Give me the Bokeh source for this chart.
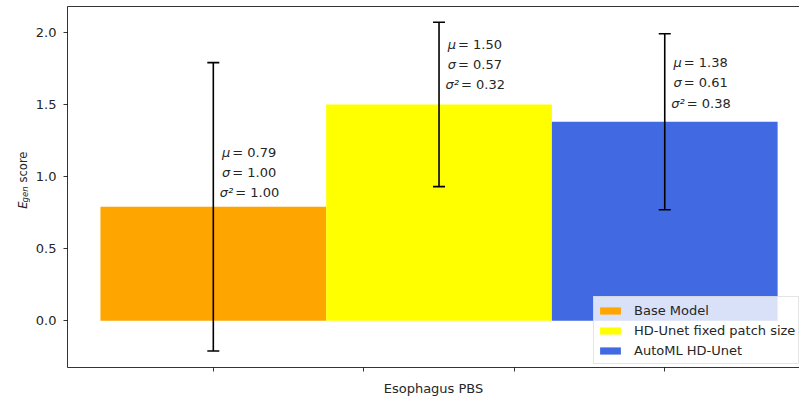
import numpy as np
from bokeh.plotting import figure
from bokeh.layouts import row
from bokeh.models import (ColumnDataSource, Range1d, FixedTicker, LinearAxis,
                          Whisker, TeeHead)
from bokeh.core.properties import value
from bokeh.embed import file_html
from bokeh.resources import INLINE

# ---------------- data ----------------
models = ["Base Model", "HD-Unet fixed patch size", "AutoML HD-Unet"]
means = [0.79, 1.50, 1.38]
stds = [1.00, 0.57, 0.61]
variances = [1.00, 0.32, 0.38]
colors = ["#FFA500", "#FFFF00", "#4169E1"]
bar_x = [0, 1, 2]
xticks = [0.0, 0.6667, 1.3333, 2.0]
yticks = [0.0, 0.5, 1.0, 1.5, 2.0]
ytick_labels = ["0.0", "0.5", "1.0", "1.5", "2.0"]
x_label = "Esophagus PBS"
y_label_parts = ["E", "gen", "score"]

# layout / style constants
FONT = "DejaVu Sans"
TXT = "#262626"
H = 398
LBL_W = 30
W = 799
note_gap_px = [14, 19.5, 18.5]   # pixel gap between bar top and last text line

# ---------------- main plot ----------------
p = figure(width=W - LBL_W, height=H, output_backend="svg", toolbar_location=None,
           x_range=Range1d(-0.646, 2.597), y_range=Range1d(-0.324, 2.179),
           min_border_left=67 - LBL_W, min_border_right=0, min_border_top=6,
           min_border_bottom=H - 369)
p.outline_line_color = None
p.xgrid.grid_line_color = None
p.ygrid.grid_line_color = None
p.background_fill_color = "white"
p.border_fill_color = "white"

# x axis
xa = p.xaxis[0]
xa.ticker = FixedTicker(ticks=xticks)
xa.major_label_text_color = None
xa.major_label_text_font_size = "1px"
xa.major_label_standoff = 0
xa.major_tick_out = 4
xa.major_tick_in = 0
xa.minor_tick_out = 0
xa.minor_tick_in = 0
xa.axis_line_width = 0.8
xa.major_tick_line_width = 0.8
xa.axis_label = x_label
xa.axis_label_text_font = FONT
xa.axis_label_text_font_size = "13px"
xa.axis_label_text_font_style = "normal"
xa.axis_label_text_color = TXT
xa.axis_label_standoff = 9

# y axis
ya = p.yaxis[0]
ya.ticker = FixedTicker(ticks=yticks)
ya.major_label_overrides = {t: l for t, l in zip(yticks, ytick_labels)}
ya.major_label_text_font = FONT
ya.major_label_text_font_size = "13px"
ya.major_label_text_color = TXT
ya.major_tick_out = 4
ya.major_tick_in = 0
ya.minor_tick_out = 0
ya.minor_tick_in = 0
ya.major_label_standoff = 7
ya.axis_line_width = 0.8
ya.major_tick_line_width = 0.8

# top spine
top_axis = LinearAxis(ticker=FixedTicker(ticks=[]), major_tick_out=0, major_tick_in=0,
                      minor_tick_out=0, minor_tick_in=0,
                      major_label_text_color=None, major_label_text_font_size="1px",
                      major_label_standoff=0, axis_line_width=0.8)
p.add_layout(top_axis, "above")

# bars
src = ColumnDataSource(dict(
    x=bar_x, top=means, model=models, color=colors,
    upper=[m + s for m, s in zip(means, stds)],
    lower=[m - s for m, s in zip(means, stds)],
))
p.vbar(x="x", top="top", width=1.0, fill_color="color", line_color=None,
       source=src, legend_field="model")

# error bars
wh = Whisker(source=src, base="x", upper="upper", lower="lower", dimension="height",
             line_color="black", line_width=1.6, level="annotation",
             upper_head=TeeHead(size=12, line_color="black", line_width=1.6),
             lower_head=TeeHead(size=12, line_color="black", line_width=1.6))
p.add_layout(wh)

# stats annotations
rows = dict(x=[], y=[], sym=[], rest=[], xo=[], xo2=[], yo=[])
for i in range(len(models)):
    items = [("μ", means[i]), ("σ", stds[i]), ("σ²", variances[i])]
    for k, (sym, val) in enumerate(items):
        xo = 20 if k == 2 else 17
        rows["x"].append(bar_x[i])
        rows["y"].append(means[i])
        rows["sym"].append(sym)
        rows["rest"].append("= %.2f" % val)
        rows["xo"].append(xo)
        rows["xo2"].append(xo + 2)
        rows["yo"].append(-(note_gap_px[i] + (2 - k) * 20.3))
tsrc = ColumnDataSource(rows)
p.text(x="x", y="y", text="sym", x_offset="xo", y_offset="yo", source=tsrc,
       text_align="right", text_baseline="alphabetic", text_font=value(FONT),
       text_font_size="13px", text_font_style="italic", text_color=TXT)
p.text(x="x", y="y", text="rest", x_offset="xo2", y_offset="yo", source=tsrc,
       text_align="left", text_baseline="alphabetic", text_font=value(FONT),
       text_font_size="13px", text_color=TXT)

# legend
lg = p.legend[0]
lg.location = (526, 3)
lg.label_text_font = FONT
lg.label_text_font_size = "13px"
lg.label_text_color = TXT
lg.glyph_width = 26
lg.glyph_height = 9
lg.label_height = 20
lg.label_standoff = 11
lg.spacing = 0
lg.padding = 3
lg.margin = 0
lg.border_line_color = "#cccccc"
lg.border_line_width = 1
lg.background_fill_color = "white"
lg.background_fill_alpha = 0.8

# ---------------- y-axis label strip (E_gen score) ----------------
q = figure(width=LBL_W, height=H, output_backend="svg", toolbar_location=None,
           x_range=Range1d(0, LBL_W), y_range=Range1d(0, H),
           x_axis_type=None, y_axis_type=None,
           min_border_left=0, min_border_right=0, min_border_top=0, min_border_bottom=0)
q.outline_line_color = None
q.xgrid.grid_line_color = None
q.ygrid.grid_line_color = None
q.background_fill_color = "white"
q.border_fill_color = "white"
lab = ColumnDataSource(dict(
    x=[22, 24.5, 22],
    y=[H - 223, H - 216, H - 194],
    text=y_label_parts,
    size=["11.5px", "8.5px", "11.5px"],
    style=["italic", "italic", "normal"],
))
q.text(x="x", y="y", text="text", source=lab, angle=90, angle_units="deg",
       text_align="left", text_baseline="alphabetic", text_font=value(FONT),
       text_font_size="size", text_font_style="style", text_color=TXT)

layout = row(q, p, spacing=0)
open("out.html", "w").write(file_html(layout, INLINE))
